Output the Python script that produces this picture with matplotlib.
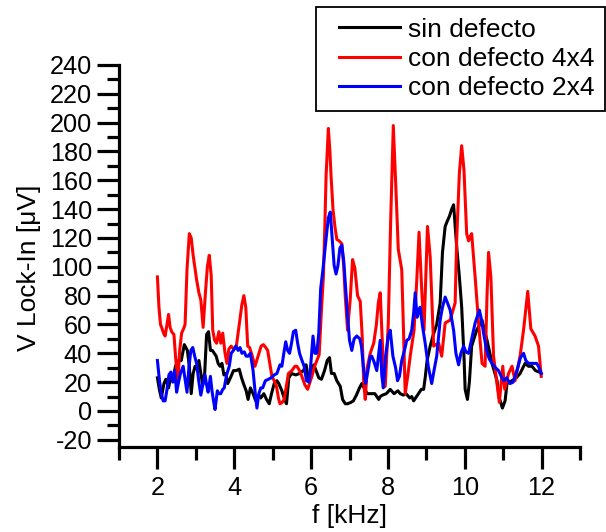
import matplotlib
matplotlib.use("Agg")
import matplotlib.pyplot as plt
from matplotlib.lines import Line2D
from matplotlib.legend_handler import HandlerLine2D
from matplotlib.ticker import MultipleLocator

plt.rcParams["font.family"] = ["Liberation Sans", "DejaVu Sans"]
plt.rcParams["axes.unicode_minus"] = False

# sin defecto
f_sin = [2.00, 2.05, 2.10, 2.17, 2.22, 2.29, 2.34, 2.40, 2.47, 2.54, 2.62, 2.70, 2.78, 2.83,
         2.88, 2.93, 2.98, 3.03, 3.08, 3.13, 3.18, 3.23, 3.28, 3.33, 3.38, 3.43, 3.48, 3.53,
         3.58, 3.63, 3.68, 3.73, 3.78, 3.83, 3.90, 3.98, 4.05, 4.13, 4.19, 4.24, 4.31, 4.36,
         4.42, 4.49, 4.56, 4.64, 4.69, 4.77, 4.84, 4.91, 4.97, 5.04, 5.11, 5.16, 5.24, 5.31,
         5.36, 5.42, 5.49, 5.60, 5.70, 5.80, 5.87, 5.93, 6.00, 6.07, 6.13, 6.20, 6.27, 6.35,
         6.42, 6.48, 6.53, 6.60, 6.67, 6.76, 6.82, 6.89, 6.95, 7.04, 7.10, 7.18, 7.26, 7.32,
         7.38, 7.46, 7.54, 7.66, 7.76, 7.80, 7.86, 7.96, 8.06, 8.16, 8.26, 8.32, 8.40, 8.47,
         8.57, 8.62, 8.67, 8.77, 8.87, 8.93, 8.97, 9.02, 9.10, 9.17, 9.27, 9.36, 9.42, 9.49,
         9.55, 9.60, 9.66, 9.71, 9.79, 9.86, 9.92, 9.98, 10.01, 10.07, 10.12, 10.18, 10.31,
         10.45, 10.58, 10.71, 10.84, 10.90, 10.98, 11.05, 11.10, 11.23, 11.34, 11.44, 11.57,
         11.66, 11.75, 11.84, 11.94, 11.99]
v_sin = [23, 15, 9, 19, 22, 16, 23, 21, 31, 35, 35, 46, 42, 31,
         12, 26, 31, 29, 35, 26, 18, 26, 53, 55, 42, 42, 40, 38,
         33, 31, 33, 25, 26, 19, 23, 28, 28, 29, 23, 19, 14, 8,
         16, 12, 7, 11, 9, 12, 8, 5, 12, 19, 21, 19, 14, 8,
         5, 23, 26, 25, 26, 28, 32, 22, 28, 32, 28, 23, 22, 28,
         35, 37, 26, 26, 21, 17, 8, 5, 5, 6, 7, 11, 16, 19,
         16, 12, 12, 12, 8, 10, 11, 12, 15, 12, 14, 12, 11, 12,
         9, 10, 7, 11, 15, 15, 23, 35, 45, 52, 60, 75, 110, 128,
         132, 135, 140, 143, 114, 93, 72, 38, 15, 8, 20, 45, 56,
         63, 49, 33, 21, 9, 2, 7, 19, 21, 23, 26, 33,
         31, 31, 28, 27, 26]

# con defecto 4x4
f_4x4 = [2.00, 2.04, 2.08, 2.11, 2.16, 2.20, 2.25, 2.29, 2.33, 2.37, 2.43, 2.48, 2.53, 2.58,
         2.63, 2.68, 2.72, 2.77, 2.83, 2.88, 2.93, 3.02, 3.08, 3.13, 3.19, 3.25, 3.30, 3.35,
         3.40, 3.44, 3.49, 3.54, 3.60, 3.65, 3.70, 3.76, 3.81, 3.86, 3.92, 3.98, 4.05, 4.13,
         4.20, 4.25, 4.30, 4.35, 4.40, 4.47, 4.54, 4.62, 4.70, 4.76, 4.82, 4.87, 4.93, 4.98,
         5.04, 5.10, 5.15, 5.19, 5.25, 5.30, 5.36, 5.41, 5.50, 5.58, 5.63, 5.70, 5.76, 5.84,
         5.91, 5.97, 6.02, 6.08, 6.12, 6.21, 6.27, 6.32, 6.36, 6.39, 6.45, 6.49, 6.52, 6.57,
         6.62, 6.67, 6.73, 6.80, 6.85, 6.89, 6.95, 7.02, 7.08, 7.14, 7.21, 7.28, 7.33, 7.37,
         7.41, 7.46, 7.54, 7.63, 7.70, 7.75, 7.80, 7.87, 7.93, 8.01, 8.07, 8.14, 8.21, 8.27,
         8.36, 8.40, 8.45, 8.52, 8.58, 8.68, 8.75, 8.81, 8.88, 8.94, 9.03, 9.10, 9.19, 9.25,
         9.32, 9.40, 9.49, 9.55, 9.62, 9.75, 9.79, 9.86, 9.92, 9.98, 10.05, 10.10, 10.14,
         10.18, 10.27, 10.36, 10.45, 10.53, 10.58, 10.62, 10.68, 10.75, 10.84, 10.90, 10.99,
         11.04, 11.14, 11.23, 11.31, 11.44, 11.53, 11.64, 11.72, 11.83, 11.92, 11.99]
v_4x4 = [93, 72, 60, 58, 54, 52, 60, 67, 58, 55, 53, 35, 19, 42,
         54, 57, 60, 98, 123, 120, 108, 91, 82, 77, 58, 82, 100, 108,
         94, 56, 49, 47, 55, 47, 54, 40, 33, 43, 45, 43, 44, 60,
         74, 80, 72, 45, 44, 38, 31, 38, 45, 46, 44, 42, 32, 24,
         21, 17, 9, 5, 6, 8, 18, 26, 28, 31, 31, 28, 24, 18,
         15, 20, 24, 30, 33, 39, 70, 93, 130, 163, 196, 180, 163, 140,
         128, 119, 118, 116, 100, 79, 56, 78, 105, 99, 80, 76, 52, 20,
         8, 30, 40, 47, 60, 75, 82, 38, 17, 61, 130, 198, 153, 112,
         98, 61, 12, 25, 38, 56, 90, 124, 84, 56, 128, 107, 45, 46,
         47, 38, 61, 62, 63, 75, 119, 165, 184, 167, 123, 118, 121,
         123, 93, 61, 33, 31, 80, 110, 93, 38, 19, 6, 31,
         15, 26, 31, 21, 38, 56, 83, 57, 52, 45, 24]

# con defecto 2x4
f_2x4 = [2.00, 2.05, 2.10, 2.15, 2.20, 2.25, 2.30, 2.35, 2.40, 2.45, 2.50, 2.55, 2.60, 2.67,
         2.72, 2.77, 2.82, 2.87, 2.92, 2.97, 3.02, 3.08, 3.13, 3.18, 3.24, 3.28, 3.32, 3.38,
         3.42, 3.46, 3.50, 3.56, 3.60, 3.65, 3.70, 3.74, 3.80, 3.87, 3.92, 3.98, 4.04, 4.10,
         4.15, 4.20, 4.26, 4.31, 4.36, 4.42, 4.49, 4.54, 4.59, 4.64, 4.69, 4.74, 4.81, 4.89,
         4.96, 5.04, 5.11, 5.19, 5.24, 5.29, 5.34, 5.39, 5.44, 5.49, 5.54, 5.60, 5.65, 5.70,
         5.75, 5.82, 5.88, 5.95, 6.00, 6.05, 6.10, 6.15, 6.20, 6.25, 6.30, 6.35, 6.40, 6.45,
         6.50, 6.55, 6.60, 6.65, 6.70, 6.75, 6.80, 6.85, 6.90, 6.95, 7.00, 7.06, 7.12, 7.19,
         7.27, 7.31, 7.36, 7.42, 7.48, 7.54, 7.58, 7.64, 7.71, 7.76, 7.80, 7.84, 7.88, 7.94,
         8.01, 8.06, 8.13, 8.20, 8.25, 8.30, 8.36, 8.43, 8.49, 8.55, 8.62, 8.67, 8.71, 8.76,
         8.81, 8.84, 8.90, 8.97, 9.05, 9.14, 9.20, 9.27, 9.32, 9.36, 9.42, 9.49, 9.55, 9.62,
         9.67, 9.71, 9.77, 9.84, 9.90, 9.97, 10.03, 10.10, 10.18, 10.27, 10.33, 10.38, 10.43,
         10.49, 10.57, 10.64, 10.71, 10.80, 10.88, 10.95, 11.01, 11.09, 11.18, 11.26, 11.31,
         11.38, 11.45, 11.53, 11.59, 11.66, 11.77, 11.87, 11.92, 11.99]
v_2x4 = [35, 22, 12, 7, 7, 15, 25, 27, 20, 28, 13, 20, 26, 31,
         22, 13, 30, 42, 44, 38, 33, 20, 11, 18, 25, 18, 13, 24,
         14, 7, 1, 14, 12, 12, 15, 16, 25, 31, 40, 42, 45, 42,
         44, 40, 41, 38, 38, 40, 28, 14, 2, 12, 16, 16, 21, 22,
         23, 25, 26, 32, 31, 40, 48, 42, 40, 47, 55, 56, 47, 40,
         36, 31, 21, 20, 35, 52, 40, 40, 54, 85, 96, 109, 122, 134,
         138, 120, 101, 95, 101, 113, 115, 104, 85, 66, 49, 42, 50, 52,
         50, 45, 31, 19, 28, 38, 38, 34, 28, 40, 49, 25, 16, 38,
         52, 56, 38, 30, 21, 24, 35, 42, 49, 50, 56, 68, 82, 65,
         70, 72, 59, 47, 31, 19, 28, 38, 52, 63, 72, 79, 75, 70,
         62, 56, 40, 32, 40, 45, 41, 40, 50, 61, 66, 70, 64,
         54, 42, 36, 33, 30, 28, 24, 21, 23, 19, 20, 24,
         30, 37, 40, 35, 33, 33, 33, 31, 26]

W, H = 606, 532
fig = plt.figure(figsize=(W / 100, H / 100), dpi=100)
ax = fig.add_axes([119 / W, 1 - 447 / H, 461 / W, 382 / H])

lw = 2.2
ax.plot(f_sin, v_sin, color="black", lw=lw, label="sin defecto")
ax.plot(f_4x4, v_4x4, color="red", lw=lw, label="con defecto 4x4")
ax.plot(f_2x4, v_2x4, color="blue", lw=lw, label="con defecto 2x4")

ax.set_xlim(1, 13)
ax.set_ylim(-25, 240)

ax.xaxis.set_major_locator(MultipleLocator(2))
ax.xaxis.set_minor_locator(MultipleLocator(1))
ax.yaxis.set_major_locator(MultipleLocator(20))
ax.yaxis.set_minor_locator(MultipleLocator(10))

for s in ["top", "right"]:
    ax.spines[s].set_visible(False)
for s in ["left", "bottom"]:
    ax.spines[s].set_linewidth(2.3)

ax.tick_params(axis="both", which="both", direction="out", width=2.3, labelsize=18.2)
ax.tick_params(axis="x", which="major", length=16, pad=5)
ax.tick_params(axis="x", which="minor", length=9)
ax.tick_params(axis="y", which="major", length=16, pad=3.5)
ax.tick_params(axis="y", which="minor", length=9)

ax.set_xlabel("f [kHz]", fontsize=19, labelpad=3)
ax.set_ylabel("V Lock-In [μV]", fontsize=19)
ax.yaxis.set_label_coords(-0.170, 0.469)

leg = ax.legend(loc="upper right", bbox_to_anchor=(605 / W, 1 - 7 / H),
                bbox_transform=fig.transFigure, borderaxespad=0,
                fontsize=19, handlelength=2.8, handletextpad=0.3,
                labelspacing=0.2, borderpad=0.4, fancybox=False,
                handler_map={Line2D: HandlerLine2D(xpad=0.5)})
leg.get_frame().set_edgecolor("black")
leg.get_frame().set_linewidth(1.3)
leg.get_frame().set_alpha(1)

fig.savefig("out.png", dpi=100)
